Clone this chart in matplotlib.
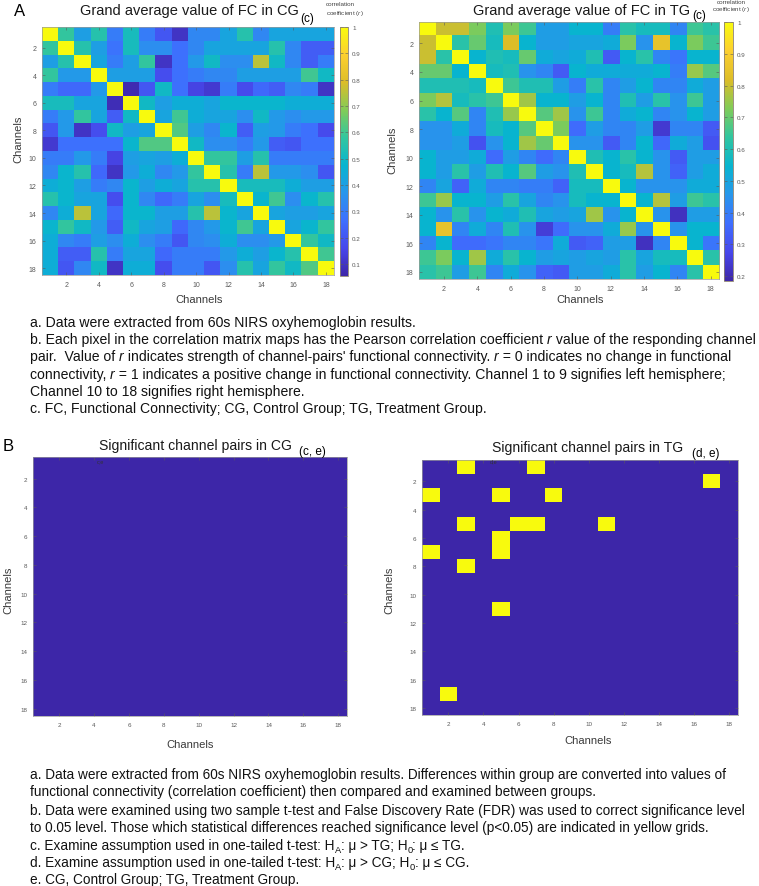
import numpy as np
import matplotlib
matplotlib.use("Agg")
import matplotlib.pyplot as plt
from matplotlib.colors import LinearSegmentedColormap

plt.rcParams["font.family"] = ["Liberation Sans", "DejaVu Sans"]
plt.rcParams["mathtext.fontset"] = "custom"
plt.rcParams["mathtext.rm"] = "Liberation Sans"
plt.rcParams["mathtext.it"] = "Liberation Sans:italic"

# ===== Data =====
channels = list(range(1, 19))
channel_ticks = [2, 4, 6, 8, 10, 12, 14, 16, 18]

# grand average FC, control group (rows = channels 1..18)
fc_cg = [
    [1.00, 0.58, 0.40, 0.55, 0.30, 0.52, 0.30, 0.20, 0.10, 0.33, 0.33, 0.42, 0.55, 0.33, 0.42, 0.42, 0.42, 0.42],
    [0.58, 1.00, 0.55, 0.40, 0.28, 0.52, 0.35, 0.35, 0.27, 0.33, 0.42, 0.42, 0.42, 0.42, 0.55, 0.33, 0.22, 0.22],
    [0.40, 0.55, 1.00, 0.42, 0.30, 0.40, 0.58, 0.10, 0.27, 0.38, 0.50, 0.35, 0.35, 0.75, 0.50, 0.33, 0.22, 0.30],
    [0.58, 0.38, 0.38, 1.00, 0.40, 0.40, 0.40, 0.18, 0.27, 0.30, 0.33, 0.33, 0.40, 0.40, 0.40, 0.40, 0.60, 0.50],
    [0.30, 0.25, 0.25, 0.38, 1.00, 0.07, 0.20, 0.50, 0.27, 0.15, 0.12, 0.30, 0.17, 0.25, 0.22, 0.33, 0.30, 0.10],
    [0.52, 0.52, 0.42, 0.42, 0.08, 1.00, 0.50, 0.40, 0.45, 0.45, 0.42, 0.48, 0.48, 0.48, 0.48, 0.45, 0.45, 0.45],
    [0.30, 0.38, 0.58, 0.42, 0.22, 0.50, 1.00, 0.42, 0.60, 0.45, 0.42, 0.42, 0.35, 0.50, 0.38, 0.35, 0.38, 0.38],
    [0.20, 0.38, 0.10, 0.18, 0.50, 0.40, 0.42, 1.00, 0.62, 0.40, 0.33, 0.48, 0.22, 0.40, 0.38, 0.30, 0.27, 0.17],
    [0.12, 0.27, 0.27, 0.27, 0.27, 0.48, 0.62, 0.62, 1.00, 0.50, 0.35, 0.35, 0.30, 0.38, 0.22, 0.20, 0.27, 0.27],
    [0.30, 0.30, 0.38, 0.30, 0.15, 0.40, 0.42, 0.40, 0.45, 1.00, 0.58, 0.58, 0.40, 0.55, 0.30, 0.30, 0.30, 0.30],
    [0.33, 0.48, 0.55, 0.25, 0.10, 0.38, 0.45, 0.33, 0.38, 0.58, 1.00, 0.55, 0.30, 0.75, 0.38, 0.38, 0.35, 0.20],
    [0.45, 0.48, 0.40, 0.30, 0.33, 0.48, 0.40, 0.45, 0.42, 0.55, 0.55, 1.00, 0.52, 0.52, 0.52, 0.45, 0.40, 0.40],
    [0.55, 0.48, 0.42, 0.42, 0.18, 0.48, 0.33, 0.25, 0.30, 0.42, 0.35, 0.52, 1.00, 0.48, 0.60, 0.35, 0.48, 0.55],
    [0.33, 0.45, 0.75, 0.42, 0.25, 0.48, 0.48, 0.40, 0.40, 0.55, 0.75, 0.48, 0.42, 1.00, 0.42, 0.40, 0.40, 0.42],
    [0.48, 0.58, 0.50, 0.38, 0.22, 0.50, 0.42, 0.40, 0.25, 0.33, 0.38, 0.48, 0.60, 0.42, 1.00, 0.42, 0.48, 0.58],
    [0.45, 0.33, 0.30, 0.40, 0.35, 0.45, 0.35, 0.30, 0.20, 0.33, 0.35, 0.45, 0.35, 0.35, 0.38, 1.00, 0.58, 0.50],
    [0.45, 0.22, 0.22, 0.55, 0.30, 0.42, 0.42, 0.25, 0.30, 0.30, 0.30, 0.38, 0.45, 0.40, 0.48, 0.55, 1.00, 0.60],
    [0.45, 0.20, 0.33, 0.50, 0.10, 0.45, 0.45, 0.18, 0.30, 0.30, 0.20, 0.35, 0.55, 0.42, 0.58, 0.50, 0.62, 1.00],
]

# grand average FC, treatment group
fc_tg = [
    [1.00, 0.80, 0.80, 0.72, 0.60, 0.72, 0.65, 0.48, 0.48, 0.55, 0.55, 0.40, 0.62, 0.58, 0.58, 0.42, 0.65, 0.62],
    [0.80, 1.00, 0.62, 0.70, 0.58, 0.82, 0.55, 0.48, 0.48, 0.50, 0.50, 0.52, 0.72, 0.45, 0.85, 0.55, 0.72, 0.65],
    [0.80, 0.62, 1.00, 0.55, 0.60, 0.58, 0.70, 0.52, 0.50, 0.52, 0.60, 0.32, 0.55, 0.62, 0.42, 0.38, 0.55, 0.55],
    [0.70, 0.70, 0.55, 1.00, 0.58, 0.60, 0.45, 0.42, 0.32, 0.55, 0.52, 0.52, 0.52, 0.52, 0.55, 0.40, 0.75, 0.68],
    [0.60, 0.60, 0.60, 0.58, 1.00, 0.65, 0.60, 0.60, 0.48, 0.40, 0.62, 0.42, 0.48, 0.55, 0.42, 0.42, 0.52, 0.48],
    [0.72, 0.78, 0.58, 0.62, 0.65, 1.00, 0.76, 0.55, 0.55, 0.48, 0.55, 0.42, 0.60, 0.48, 0.62, 0.45, 0.65, 0.48],
    [0.62, 0.55, 0.68, 0.42, 0.60, 0.75, 1.00, 0.68, 0.76, 0.45, 0.65, 0.42, 0.52, 0.55, 0.42, 0.45, 0.55, 0.48],
    [0.45, 0.45, 0.52, 0.42, 0.58, 0.55, 0.68, 1.00, 0.72, 0.36, 0.48, 0.42, 0.42, 0.48, 0.24, 0.42, 0.42, 0.32],
    [0.45, 0.45, 0.48, 0.30, 0.45, 0.55, 0.76, 0.70, 1.00, 0.45, 0.45, 0.32, 0.42, 0.55, 0.35, 0.52, 0.48, 0.30],
    [0.55, 0.48, 0.48, 0.52, 0.36, 0.48, 0.42, 0.36, 0.42, 1.00, 0.60, 0.55, 0.62, 0.55, 0.45, 0.32, 0.48, 0.48],
    [0.55, 0.48, 0.62, 0.48, 0.60, 0.55, 0.68, 0.48, 0.45, 0.60, 1.00, 0.55, 0.58, 0.78, 0.45, 0.34, 0.48, 0.52],
    [0.42, 0.50, 0.34, 0.52, 0.42, 0.42, 0.40, 0.40, 0.34, 0.58, 0.58, 1.00, 0.55, 0.45, 0.45, 0.45, 0.52, 0.52],
    [0.65, 0.75, 0.55, 0.55, 0.48, 0.62, 0.50, 0.42, 0.45, 0.58, 0.55, 0.55, 1.00, 0.55, 0.78, 0.48, 0.65, 0.62],
    [0.55, 0.45, 0.62, 0.45, 0.55, 0.52, 0.60, 0.50, 0.48, 0.50, 0.76, 0.45, 0.55, 1.00, 0.45, 0.22, 0.48, 0.48],
    [0.55, 0.85, 0.42, 0.52, 0.42, 0.60, 0.45, 0.25, 0.36, 0.45, 0.45, 0.52, 0.75, 0.45, 1.00, 0.45, 0.55, 0.55],
    [0.42, 0.55, 0.36, 0.36, 0.38, 0.42, 0.42, 0.38, 0.52, 0.32, 0.34, 0.48, 0.48, 0.22, 0.42, 1.00, 0.55, 0.38],
    [0.65, 0.72, 0.55, 0.76, 0.52, 0.62, 0.55, 0.48, 0.50, 0.48, 0.50, 0.48, 0.62, 0.50, 0.58, 0.58, 1.00, 0.62],
    [0.62, 0.65, 0.48, 0.65, 0.42, 0.52, 0.45, 0.34, 0.32, 0.48, 0.48, 0.52, 0.62, 0.48, 0.55, 0.42, 0.62, 1.00],
]

# significant channel pairs (row, col); CG has none
sig_cg_pairs = []
sig_tg_pairs = [(1, 3), (1, 7), (2, 17), (3, 1), (3, 5), (3, 8), (5, 3), (5, 6), (5, 7),
                (5, 11), (6, 5), (7, 5), (7, 1), (8, 3), (11, 5), (17, 2)]

cg_ticks = [0.1, 0.2, 0.3, 0.4, 0.5, 0.6, 0.7, 0.8, 0.9, 1.0]
tg_ticks = [0.2, 0.3, 0.4, 0.5, 0.6, 0.7, 0.8, 0.9, 1.0]

# $x$ -> italic, $_x$ -> subscript
notes_a = [
    "a. Data were extracted from 60s NIRS oxyhemoglobin results.",
    "b. Each pixel in the correlation matrix maps has the Pearson correlation coefficient $r$ value of the responding channel",
    "pair.  Value of $r$ indicates strength of channel-pairs' functional connectivity. $r$ = 0 indicates no change in functional",
    "connectivity, $r$ = 1 indicates a positive change in functional connectivity. Channel 1 to 9 signifies left hemisphere;",
    "Channel 10 to 18 signifies right hemisphere.",
    "c. FC, Functional Connectivity; CG, Control Group; TG, Treatment Group.",
]
notes_b = [
    "a. Data were extracted from 60s NIRS oxyhemoglobin results. Differences within group are converted into values of",
    "functional connectivity (correlation coefficient) then compared and examined between groups.",
    "b. Data were examined using two sample t-test and False Discovery Rate (FDR) was used to correct significance level",
    "to 0.05 level. Those which statistical differences reached significance level (p<0.05) are indicated in yellow grids.",
    "c. Examine assumption used in one-tailed t-test: H$_A$: μ > TG; H$_0$: μ ≤ TG.",
    "d. Examine assumption used in one-tailed t-test: H$_A$: μ > CG; H$_0$: μ ≤ CG.",
    "e. CG, Control Group; TG, Treatment Group.",
]

# ===== Style =====
PARULA = [(0.2422, 0.1504, 0.6603), (0.2803, 0.2782, 0.9221), (0.2440, 0.4358, 0.9988),
          (0.1540, 0.5902, 0.9218), (0.0297, 0.7082, 0.8163), (0.1938, 0.7758, 0.6251),
          (0.5044, 0.7993, 0.3480), (0.8634, 0.7406, 0.1596), (0.9892, 0.8136, 0.1885),
          (0.9763, 0.9831, 0.0538)]
parula = LinearSegmentedColormap.from_list("parula", PARULA)

W, H = 759, 887
TICK_COLOR = "#5a5a5a"
LABEL_COLOR = "#3a3a3a"


def box(l, r, t, b):
    # pixel box (from top-left) -> figure fraction rect
    return [l / W, 1 - b / H, (r - l) / W, (b - t) / H]


def ftext(x, y, s, **kw):
    kw.setdefault("va", "center")
    return fig.text(x / W, 1 - y / H, s, **kw)


def text_width(s, renderer, **kw):
    # measure advance incl. spaces by padding with bars
    t = fig.text(0, 0, "|" + s + "|", **kw)
    t2 = fig.text(0, 0, "||", **kw)
    w = t.get_window_extent(renderer).width - t2.get_window_extent(renderer).width
    t.remove()
    t2.remove()
    return w


def note_line(x, y, markup, size, color="#111111"):
    renderer = fig.canvas.get_renderer()
    base = y + 4
    px = x
    for i, part in enumerate(markup.split("$")):
        if not part:
            continue
        kw = dict(fontsize=size, color=color)
        yy = base
        if i % 2 == 1:
            if part.startswith("_"):
                part = part[1:]
                kw["fontsize"] = size * 0.68
                yy = base + 3
            else:
                kw["style"] = "italic"
        fig.text(px / W, 1 - yy / H, part, va="baseline", **kw)
        px += text_width(part, renderer, **kw)


def channel_map(rect, mat, vmin, vmax, tick_size=5):
    ax = fig.add_axes(rect)
    im = ax.imshow(np.array(mat), cmap=parula, vmin=vmin, vmax=vmax, aspect="auto",
                   interpolation="nearest", extent=(0.5, 18.5, 18.5, 0.5))
    ax.set_xticks(channel_ticks)
    ax.set_yticks(channel_ticks)
    ax.tick_params(direction="in", length=2, width=0.4, labelsize=tick_size,
                   colors=TICK_COLOR, top=True, right=True, pad=4)
    for sp in ax.spines.values():
        sp.set_color("#9a9a9a")
        sp.set_linewidth(0.5)
    return ax, im


def add_cbar(rect, im, ticks):
    cax = fig.add_axes(rect)
    cb = fig.colorbar(im, cax=cax, ticks=ticks)
    cb.ax.set_yticklabels([("%g" % t) for t in ticks])
    cb.ax.tick_params(direction="in", length=2, width=0.4, labelsize=4.5,
                      colors=TICK_COLOR, left=True, right=True, pad=3)
    cb.outline.set_edgecolor("#8a8070")
    cb.outline.set_linewidth(0.6)
    return cb


def sig_matrix(pairs):
    m = np.zeros((len(channels), len(channels)))
    for r, c in pairs:
        m[r - 1, c - 1] = 1
    return m


fig = plt.figure(figsize=(W / 100, H / 100), dpi=100)

# ===== Panel A =====
ax_cg, im_cg = channel_map(box(42, 334, 28, 276), fc_cg, 0.055, 1.0)
add_cbar(box(340, 348, 28, 277), im_cg, cg_ticks)
ax_tg, im_tg = channel_map(box(419, 719, 23, 280), fc_tg, 0.185, 1.0)
add_cbar(box(724, 733, 23, 282), im_tg, tg_ticks)

ftext(14, 11, "A", fontsize=12)
ftext(189, 11, "Grand average value of FC in CG", fontsize=10.5, ha="center", color="#1a1a1a")
ftext(300, 19, "(c)", fontsize=8.5)
ftext(582, 11, "Grand average value of FC in TG", fontsize=10.5, ha="center", color="#1a1a1a")
ftext(692, 16, "(c)", fontsize=8.5)
ftext(340, 4, "correlation", fontsize=4.5, ha="center", color="#444444")
ftext(345, 14, "coefficient ($r$)", fontsize=4.5, ha="center", color="#444444")
ftext(731, 3, "correlation", fontsize=4.5, ha="center", color="#444444")
ftext(731, 10, "coefficient ($r$)", fontsize=4.5, ha="center", color="#444444")

ftext(18, 139, "Channels", fontsize=8, rotation=90, ha="center", color=LABEL_COLOR)
ftext(199, 300, "Channels", fontsize=8, ha="center", color=LABEL_COLOR)
ftext(392, 150, "Channels", fontsize=8, rotation=90, ha="center", color=LABEL_COLOR)
ftext(580, 300, "Channels", fontsize=8, ha="center", color=LABEL_COLOR)

for i, line in enumerate(notes_a):
    note_line(30, 323 + 17.2 * i, line, 10.05)

# ===== Panel B =====
channel_map(box(33, 347, 458, 717), sig_matrix(sig_cg_pairs), 0, 1, tick_size=4.5)
channel_map(box(422, 738, 461, 716), sig_matrix(sig_tg_pairs), 0, 1, tick_size=4.5)

ftext(3, 447, "B", fontsize=12)
ftext(195, 446, "Significant channel pairs in CG", fontsize=10.1, ha="center", color="#1a1a1a")
ftext(299, 452, "(c, e)", fontsize=8.5)
ftext(97, 462, "c,e", fontsize=4, color="#333333")
ftext(588, 448, "Significant channel pairs in TG", fontsize=10.1, ha="center", color="#1a1a1a")
ftext(692, 454, "(d, e)", fontsize=8.5)
ftext(490, 462, "d,e", fontsize=4, color="#333333")

ftext(8, 590, "Channels", fontsize=8, rotation=90, ha="center", color=LABEL_COLOR)
ftext(190, 745, "Channels", fontsize=8, ha="center", color=LABEL_COLOR)
ftext(389, 590, "Channels", fontsize=8, rotation=90, ha="center", color=LABEL_COLOR)
ftext(588, 741, "Channels", fontsize=8, ha="center", color=LABEL_COLOR)

note_y = [775, 792, 811, 828, 846, 863, 880]
for y, line in zip(note_y, notes_b):
    note_line(30, y, line, 9.8)

fig.savefig("out.png", dpi=100)
